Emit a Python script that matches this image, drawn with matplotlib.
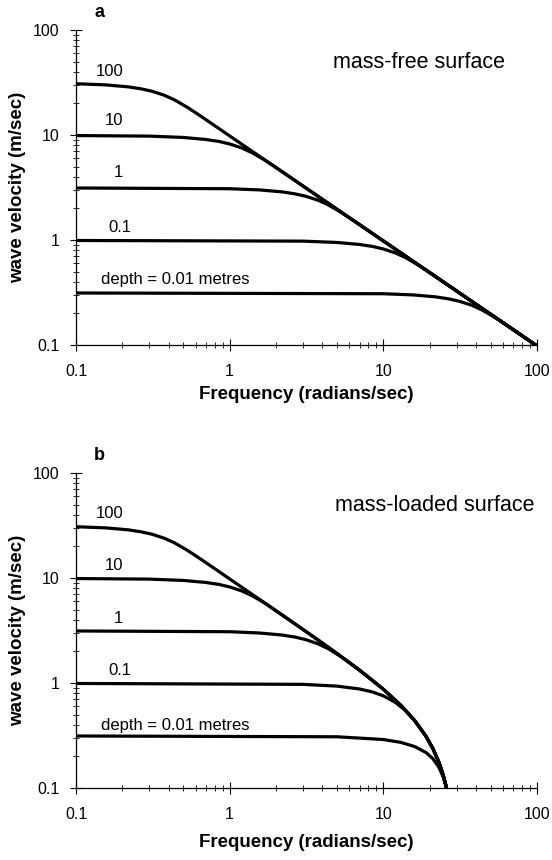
import numpy as np
import matplotlib
matplotlib.use("Agg")
import matplotlib.pyplot as plt
from matplotlib.ticker import LogLocator, NullFormatter

plt.rcParams['font.family'] = ['Liberation Sans', 'DejaVu Sans']

# frequencies in rad/s, velocities in m/s
# panel a: mass-free surface
freq_a_100 = [0.1, 0.157, 0.219, 0.266, 0.313, 0.376, 0.438, 0.532, 0.626, 0.783, 0.94, 100]
vel_a_100 = [30.8, 30.0, 28.75, 27.5, 26.1, 23.9, 21.6, 18.3, 15.66, 12.53, 10.43, 0.0981]
freq_a_10 = [0.1, 0.3, 0.5, 0.7, 0.85, 1.0, 1.2, 1.4, 1.7, 2.0, 2.5, 3.0, 100]
vel_a_10 = [9.885, 9.76, 9.48, 9.07, 8.69, 8.22, 7.53, 6.78, 5.75, 4.91, 3.93, 3.27, 0.0981]
freq_a_1 = [0.1, 1.0, 1.57, 2.19, 2.66, 3.13, 3.76, 4.38, 5.32, 6.26, 7.83, 9.4, 100]
vel_a_1 = [3.13, 3.08, 3.0, 2.875, 2.753, 2.609, 2.393, 2.161, 1.832, 1.566, 1.253, 1.043, 0.0981]
freq_a_01 = [0.1, 3, 5, 7, 8.5, 10, 12, 14, 17, 20, 25, 30, 100]
vel_a_01 = [0.99, 0.976, 0.948, 0.907, 0.869, 0.822, 0.753, 0.678, 0.575, 0.491, 0.393, 0.327, 0.0981]
freq_a_001 = [0.1, 10, 15.7, 21.9, 26.6, 31.3, 37.6, 43.8, 53.2, 62.6, 78.3, 94, 100]
vel_a_001 = [0.313, 0.308, 0.300, 0.2875, 0.2753, 0.2609, 0.2393, 0.2161, 0.1832, 0.1566, 0.1253, 0.1043, 0.0981]

# panel b: mass-loaded surface
freq_b_100 = [0.1, 0.157, 0.219, 0.266, 0.313, 0.376, 0.438, 0.532, 0.626, 0.783, 0.94,
              1, 1.5, 2, 3, 4, 5, 7, 10, 13, 16, 19, 21, 23, 24.5, 25.5, 25.9]
vel_b_100 = [30.8, 30.0, 28.75, 27.5, 26.1, 23.9, 21.6, 18.3, 15.66, 12.53, 10.43,
             9.80, 6.524, 4.883, 3.237, 2.409, 1.9075, 1.325, 0.872, 0.6129, 0.4387,
             0.3092, 0.2382, 0.1758, 0.1334, 0.1068, 0.0965]
freq_b_10 = [0.1, 0.3, 0.5, 0.7, 0.85, 1.0, 1.2, 1.4, 1.7, 2.0, 2.5,
             3, 4, 5, 7, 10, 13, 16, 19, 21, 23, 24.5, 25.5, 25.9]
vel_b_10 = [9.885, 9.76, 9.48, 9.07, 8.69, 8.22, 7.53, 6.78, 5.75, 4.88, 3.90,
            3.237, 2.409, 1.9075, 1.325, 0.872, 0.6129, 0.4387, 0.3092, 0.2382,
            0.1758, 0.1334, 0.1068, 0.0965]
freq_b_1 = [0.1, 1.0, 1.57, 2.19, 2.66, 3.13, 3.76, 4.38, 5.32, 6.26, 7.83, 9.4,
            10, 13, 16, 19, 21, 23, 24.5, 25.5, 25.9]
vel_b_1 = [3.13, 3.08, 2.993, 2.865, 2.739, 2.589, 2.361, 2.123, 1.779, 1.498, 1.168, 0.941,
           0.872, 0.6129, 0.4387, 0.3092, 0.2382, 0.1758, 0.1334, 0.1068, 0.0965]
freq_b_01 = [0.1, 3, 5, 7, 8.5, 10, 12, 14, 16, 19, 21, 23, 24.5, 25.5, 25.9]
vel_b_01 = [0.99, 0.971, 0.934, 0.877, 0.822, 0.755, 0.653, 0.544, 0.438,
            0.3092, 0.2382, 0.1758, 0.1334, 0.1068, 0.0965]
freq_b_001 = [0.1, 5, 10, 13, 16, 19, 21, 23, 24.5, 25.5, 25.8]
vel_b_001 = [0.313, 0.3076, 0.2897, 0.272, 0.2483, 0.2172, 0.1906, 0.1575, 0.1278, 0.1054, 0.0983]

depth_labels = ["100", "10", "1", "0.1", "depth = 0.01 metres"]
label_freq = [0.166, 0.177, 0.19, 0.192, 0.445]
label_vel_a = [40.7, 13.9, 4.35, 1.33, 0.425]
label_vel_b = [41.3, 13.3, 4.13, 1.31, 0.398]

tick_vals = [0.1, 1, 10, 100]
tick_labels = ["0.1", "1", "10", "100"]

curves_a = [(freq_a_100, vel_a_100), (freq_a_10, vel_a_10), (freq_a_1, vel_a_1),
            (freq_a_01, vel_a_01), (freq_a_001, vel_a_001)]
curves_b = [(freq_b_100, vel_b_100), (freq_b_10, vel_b_10), (freq_b_1, vel_b_1),
            (freq_b_01, vel_b_01), (freq_b_001, vel_b_001)]

fig = plt.figure(figsize=(5.52, 8.6), dpi=100)
ax_a = fig.add_axes([0.1377, 0.5988, 0.8351, 0.3663])
ax_b = fig.add_axes([0.1377, 0.0837, 0.8351, 0.3663])

panels = [(ax_a, curves_a, label_vel_a, "a", "mass-free surface", 0.744, 0.5407),
          (ax_b, curves_b, label_vel_b, "b", "mass-loaded surface", 0.779, 0.0198)]

for ax, curves, lab_vel, letter, title, tx, xlab_y in panels:
    for fr, v in curves:
        ax.plot(fr, v, color='black', lw=2.3, solid_capstyle='butt')
    for lab, lf, lv in zip(depth_labels, label_freq, lab_vel):
        ax.text(lf, lv, lab, ha='center', va='center', fontsize=12)
    ax.set_xscale('log')
    ax.set_yscale('log')
    ax.set_xlim(0.1, 100)
    ax.set_ylim(0.1, 100)
    ax.set_xticks(tick_vals)
    ax.set_xticklabels(tick_labels)
    ax.set_yticks(tick_vals)
    ax.set_yticklabels(tick_labels)
    ax.xaxis.set_minor_locator(LogLocator(base=10, subs=np.arange(2, 10)))
    ax.yaxis.set_minor_locator(LogLocator(base=10, subs=np.arange(2, 10)))
    ax.xaxis.set_minor_formatter(NullFormatter())
    ax.yaxis.set_minor_formatter(NullFormatter())
    ax.tick_params(which='major', direction='inout', length=8, width=0.8,
                   labelsize=11.5)
    ax.tick_params(axis='x', which='major', pad=10)
    ax.tick_params(axis='y', which='major', pad=8)
    ax.tick_params(which='minor', direction='inout', length=4, width=0.6)
    for s in ['top', 'right']:
        ax.spines[s].set_visible(False)
    for s in ['left', 'bottom']:
        ax.spines[s].set_linewidth(0.9)
    ax.text(0.05, 1.055, letter, transform=ax.transAxes, ha='center', va='center',
            fontsize=13, fontweight='bold')
    ax.text(tx, 0.896, title, transform=ax.transAxes, ha='center', va='center',
            fontsize=15.5)
    pos = ax.get_position()
    fig.text(0.032, pos.y0 + pos.height / 2, "wave velocity (m/sec)", rotation=90,
             ha='center', va='center', fontsize=13.5, fontweight='bold')
    fig.text(pos.x0 + pos.width / 2, xlab_y, "Frequency (radians/sec)",
             ha='center', va='center', fontsize=13.5, fontweight='bold')

fig.savefig("out.png", dpi=100)
